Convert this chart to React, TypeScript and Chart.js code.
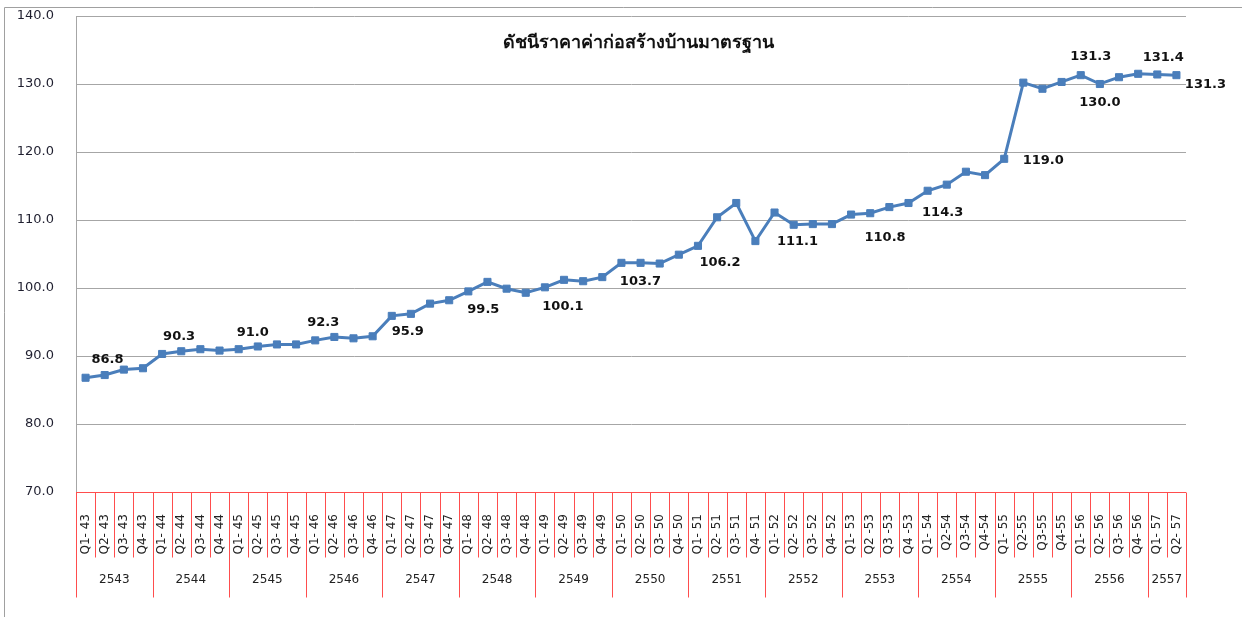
import { useEffect, useRef } from 'react';
import { Chart, registerables } from 'chart.js';

Chart.register(...registerables);

const TITLE = 'ดัชนีราคาค่าก่อสร้างบ้านมาตรฐาน';

const quarterLabels = [
  'Q1- 43', 'Q2- 43', 'Q3- 43', 'Q4- 43',
  'Q1- 44', 'Q2- 44', 'Q3- 44', 'Q4- 44',
  'Q1- 45', 'Q2- 45', 'Q3- 45', 'Q4- 45',
  'Q1- 46', 'Q2- 46', 'Q3- 46', 'Q4- 46',
  'Q1- 47', 'Q2- 47', 'Q3- 47', 'Q4- 47',
  'Q1- 48', 'Q2- 48', 'Q3- 48', 'Q4- 48',
  'Q1- 49', 'Q2- 49', 'Q3- 49', 'Q4- 49',
  'Q1- 50', 'Q2- 50', 'Q3- 50', 'Q4- 50',
  'Q1- 51', 'Q2- 51', 'Q3- 51', 'Q4- 51',
  'Q1- 52', 'Q2- 52', 'Q3- 52', 'Q4- 52',
  'Q1- 53', 'Q2 -53', 'Q3 -53', 'Q4 -53',
  'Q1- 54', 'Q2-54', 'Q3-54', 'Q4-54',
  'Q1- 55', 'Q2-55', 'Q3-55', 'Q4-55',
  'Q1- 56', 'Q2- 56', 'Q3- 56', 'Q4- 56',
  'Q1- 57', 'Q2- 57',
];

const indexValues = [
  86.8, 87.2, 88.0, 88.2,
  90.3, 90.7, 91.0, 90.8,
  91.0, 91.4, 91.7, 91.7,
  92.3, 92.8, 92.6, 92.9,
  95.9, 96.2, 97.7, 98.2,
  99.5, 100.9, 99.9, 99.3,
  100.1, 101.2, 101.0, 101.6,
  103.7, 103.7, 103.6, 104.9,
  106.2, 110.4, 112.5, 106.9,
  111.1, 109.3, 109.4, 109.4,
  110.8, 111.0, 111.9, 112.5,
  114.3, 115.2, 117.1, 116.6,
  119.0, 130.2, 129.3, 130.3,
  131.3, 130.0, 131.0, 131.5,
  131.4, 131.3,
];

const yearLabels = [
  '2543', '2544', '2545', '2546', '2547', '2548', '2549', '2550',
  '2551', '2552', '2553', '2554', '2555', '2556', '2557',
];
const yearQuarterCounts = [4, 4, 4, 4, 4, 4, 4, 4, 4, 4, 4, 4, 4, 4, 2];

const labelledPoints = [0, 4, 8, 12, 16, 20, 24, 28, 32, 36, 40, 44, 48, 52, 53, 56, 57];

const yMin = 70;
const yMax = 140;
const yStep = 10;

// label placement (dx, dy from the point, in px) – styling only
const labelOffsets: Record<number, [number, number]> = {
  0: [22, -18], 4: [17, -17], 8: [14, -17], 12: [8, -18], 16: [16, 16],
  20: [15, 18], 24: [18, 19], 28: [19, 19], 32: [22, 17], 36: [23, 29],
  40: [34, 23], 44: [15, 22], 48: [39, 2], 52: [10, -19], 53: [0, 19],
  56: [6, -17], 57: [29, 9],
};

const FONT = '"DejaVu Sans", "Noto Sans", sans-serif';
const RED = '#ff4d4d';
const BLUE = '#4a7ebb';

const decorPlugin = {
  id: 'decor',
  beforeDraw(chart: any) {
    const ctx = chart.ctx;
    ctx.save();
    ctx.strokeStyle = '#a0a0a0';
    ctx.lineWidth = 1;
    ctx.beginPath();
    ctx.moveTo(4.5, chart.height);
    ctx.lineTo(4.5, 7.5);
    ctx.lineTo(chart.width, 7.5);
    ctx.stroke();
    ctx.restore();
  },
  afterDraw(chart: any) {
    const ctx = chart.ctx;
    const area = chart.chartArea;
    const x = chart.scales.x;
    const n = quarterLabels.length;
    const w = x.getPixelForValue(1) - x.getPixelForValue(0);
    const top = Math.round(area.bottom) + 0.5;
    const qBottom = top + 65;
    const yBottom = top + 105;
    ctx.save();
    ctx.strokeStyle = RED;
    ctx.lineWidth = 1;
    ctx.beginPath();
    ctx.moveTo(area.left, top);
    ctx.lineTo(area.right, top);
    const yearStarts = new Set<number>();
    let acc = 0;
    yearStarts.add(0);
    yearQuarterCounts.forEach((c) => { acc += c; yearStarts.add(acc); });
    for (let i = 0; i <= n; i++) {
      const px = Math.round(x.getPixelForValue(i) - w / 2) + 0.5;
      ctx.moveTo(px, top);
      ctx.lineTo(px, yearStarts.has(i) ? yBottom : qBottom);
    }
    ctx.stroke();

    // year labels
    ctx.fillStyle = '#222';
    ctx.font = `12px ${FONT}`;
    ctx.textAlign = 'center';
    ctx.textBaseline = 'middle';
    let start = 0;
    yearLabels.forEach((yl, k) => {
      const end = start + yearQuarterCounts[k] - 1;
      const cx = (x.getPixelForValue(start) + x.getPixelForValue(end)) / 2;
      ctx.fillText(yl, cx, top + 87);
      start = end + 1;
    });

    // title
    ctx.fillStyle = '#111';
    ctx.font = `bold 18px ${FONT}`;
    ctx.fillText(TITLE, (area.left + area.right) / 2 + 7, area.top + 27);
    ctx.restore();
  },
  afterDatasetsDraw(chart: any) {
    const ctx = chart.ctx;
    const meta = chart.getDatasetMeta(0);
    ctx.save();
    ctx.fillStyle = '#111';
    ctx.font = `bold 13px ${FONT}`;
    ctx.textAlign = 'center';
    ctx.textBaseline = 'middle';
    labelledPoints.forEach((i) => {
      const el = meta.data[i];
      const [dx, dy] = labelOffsets[i] || [0, -16];
      ctx.fillText(indexValues[i].toFixed(1), el.x + dx, el.y + dy);
    });
    ctx.restore();
  },
};

export default function App() {
  const ref = useRef<HTMLCanvasElement | null>(null);
  useEffect(() => {
    document.body.style.margin = '0';
    if (!ref.current) return;
    const chart = new Chart(ref.current, {
      type: 'line',
      data: {
        labels: quarterLabels,
        datasets: [
          {
            data: indexValues,
            borderColor: BLUE,
            backgroundColor: BLUE,
            borderWidth: 3,
            tension: 0,
            pointStyle: 'rect',
            pointRadius: 5,
            pointBorderWidth: 1,
            pointBackgroundColor: BLUE,
            pointBorderColor: BLUE,
          },
        ],
      },
      options: {
        responsive: false,
        animation: false,
        devicePixelRatio: 1,
        layout: { padding: { top: 16, right: 56, bottom: 20, left: 0 } },
        plugins: {
          legend: { display: false },
          tooltip: { enabled: false },
          title: { display: false },
        },
        scales: {
          x: {
            type: 'category',
            offset: true,
            grid: { display: false },
            border: { display: false },
            ticks: {
              autoSkip: false,
              minRotation: 90,
              maxRotation: 90,
              padding: 14,
              color: '#222',
              font: { family: FONT, size: 12 },
            },
            afterFit(s: any) {
              s.height = 105;
              s.paddingLeft = 0;
              s.paddingRight = 0;
            },
          },
          y: {
            min: yMin,
            max: yMax,
            ticks: {
              stepSize: yStep,
              padding: 22,
              color: '#1f1f2f',
              font: { family: FONT, size: 13 },
              callback: (v: any) => Number(v).toFixed(1),
            },
            grid: { color: '#a6a6a6', drawTicks: false },
            border: { display: true, color: '#a6a6a6' },
            afterFit(s: any) {
              s.width = 76;
              s.paddingTop = 0;
              s.paddingBottom = 0;
            },
          },
        },
      },
      plugins: [decorPlugin],
    });
    return () => chart.destroy();
  }, []);
  return (
    <div style={{ width: 1242, height: 617 }}>
      <canvas ref={ref} width={1242} height={617} />
    </div>
  );
}
